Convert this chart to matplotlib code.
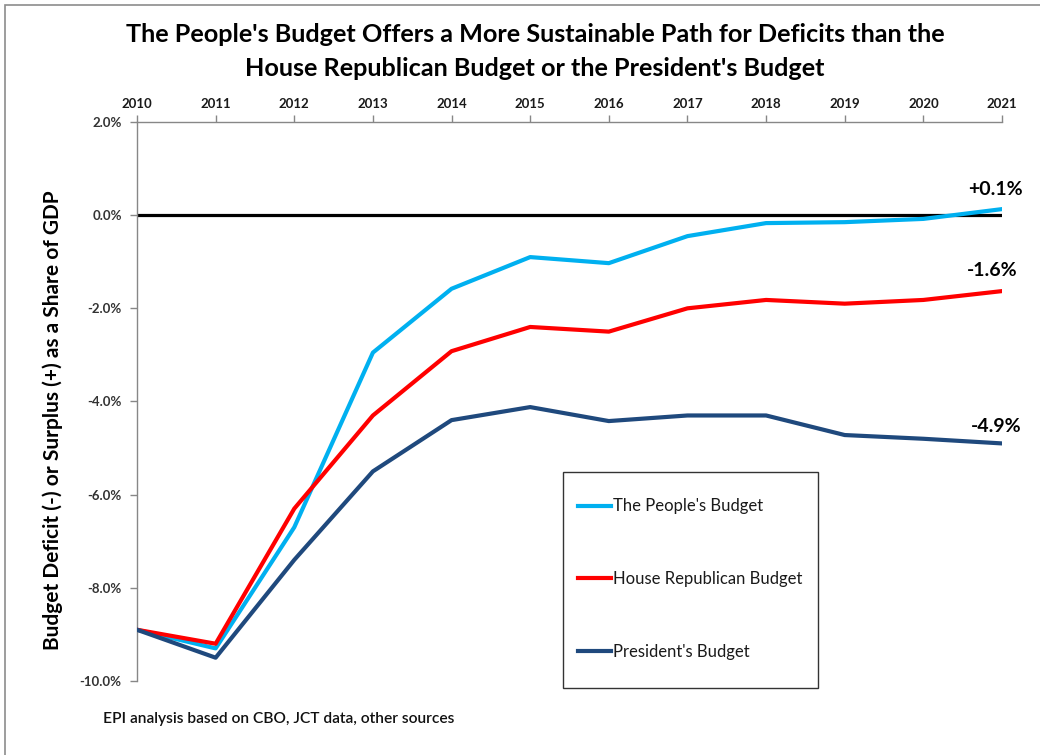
import matplotlib
matplotlib.use("Agg")
import matplotlib.pyplot as plt
from matplotlib.patches import Rectangle
from matplotlib.ticker import FuncFormatter

plt.rcParams['font.family'] = ['Lato', 'DejaVu Sans']

years = [2010, 2011, 2012, 2013, 2014, 2015, 2016, 2017, 2018, 2019, 2020, 2021]
peoples = [-8.9, -9.3, -6.7, -2.95, -1.58, -0.9, -1.03, -0.45, -0.17, -0.15, -0.08, 0.13]
house_rep = [-8.9, -9.2, -6.3, -4.3, -2.92, -2.4, -2.5, -2.0, -1.82, -1.9, -1.82, -1.63]
president = [-8.9, -9.5, -7.4, -5.5, -4.4, -4.12, -4.42, -4.3, -4.3, -4.72, -4.8, -4.9]
series_names = ["The People's Budget", "House Republican Budget", "President's Budget"]
end_labels = ["+0.1%", "-1.6%", "-4.9%"]
y_ticks = [2.0, 0.0, -2.0, -4.0, -6.0, -8.0, -10.0]

colors = ["#00B0F0", "#FF0000", "#1F497D"]

fig = plt.figure(figsize=(10.4, 7.55), dpi=100)
ax = fig.add_axes([137/1040, 1-681/755, (1002-137)/1040, (681-122)/755])

ax.set_xlim(years[0], years[-1])
ax.set_ylim(-10, 2)

# zero line
ax.plot([years[0], years[-1]], [0, 0], color='black', lw=2.3, zorder=2, solid_capstyle='butt')

for vals, c, name in zip([peoples, house_rep, president], colors, series_names):
    ax.plot(years, vals, color=c, lw=3.0, label=name, zorder=3, solid_joinstyle='round')

# end labels
for vals, lab, dx, dy in zip([peoples, house_rep, president], end_labels, [-5, -7, -4], [14, 15, 12]):
    ax.annotate(lab, xy=(years[-1], vals[-1]), xytext=(dx, dy), textcoords='offset points',
                ha='center', va='center', fontsize=14, fontweight='bold', color='black')

# spines
for s in ['right', 'bottom']:
    ax.spines[s].set_visible(False)
for s in ['left', 'top']:
    ax.spines[s].set_color('#878787')
    ax.spines[s].set_linewidth(1.0)

ax.xaxis.set_ticks_position('top')
ax.xaxis.set_label_position('top')
ax.set_xticks(years)
ax.set_xticklabels([str(y) for y in years])
ax.tick_params(axis='x', which='major', direction='out', length=5, width=1, color='#878787',
               labelsize=9.5, pad=4, labelcolor='#1a1a1a')
ax.set_yticks(y_ticks)
ax.yaxis.set_major_formatter(FuncFormatter(lambda v, p: f"{v:.1f}%"))
ax.tick_params(axis='y', which='major', direction='out', length=5, width=1, color='#878787',
               labelsize=9.5, pad=6, labelcolor='#333333')
for lab in ax.get_xticklabels() + ax.get_yticklabels():
    lab.set_fontweight('bold')

ax.set_ylabel("Budget Deficit (-) or Surplus (+) as a Share of GDP", fontsize=15,
              fontweight='bold')
ax.yaxis.set_label_coords((63-137)/865, (681-420)/559)

# legend
leg = ax.legend(loc='center left', bbox_to_anchor=(578/1040, 1-579/755), bbox_transform=fig.transFigure,
                frameon=False, fontsize=12, handlelength=2.0, handletextpad=0.1,
                labelspacing=3.4, borderpad=0, borderaxespad=0)
for t in leg.get_texts():
    t.set_color('#1a1a1a')
fig.add_artist(Rectangle((563/1040, 1-688/755), (818-563)/1040, (688-472)/755,
                         transform=fig.transFigure, fill=False, edgecolor='#333333', lw=1.0))

# title
fig.text(535/1040, 1-35/755, "The People's Budget Offers a More Sustainable Path for Deficits than the",
         ha='center', va='center', fontsize=18.2, fontweight='bold', color='black')
fig.text(535/1040, 1-68/755, "House Republican Budget or the President's Budget",
         ha='center', va='center', fontsize=18.2, fontweight='bold', color='black')

# source
fig.text(103/1040, 1-719/755, "EPI analysis based on CBO, JCT data, other sources",
         ha='left', va='center', fontsize=11.2, fontweight='semibold', color='#111111')

# outer frame
fig.add_artist(Rectangle((5/1040, -0.05), 1.1, 1-5/755+0.05, transform=fig.transFigure,
                         fill=False, edgecolor='#8c8c8c', lw=1.2))

fig.savefig("out.png", dpi=100)
